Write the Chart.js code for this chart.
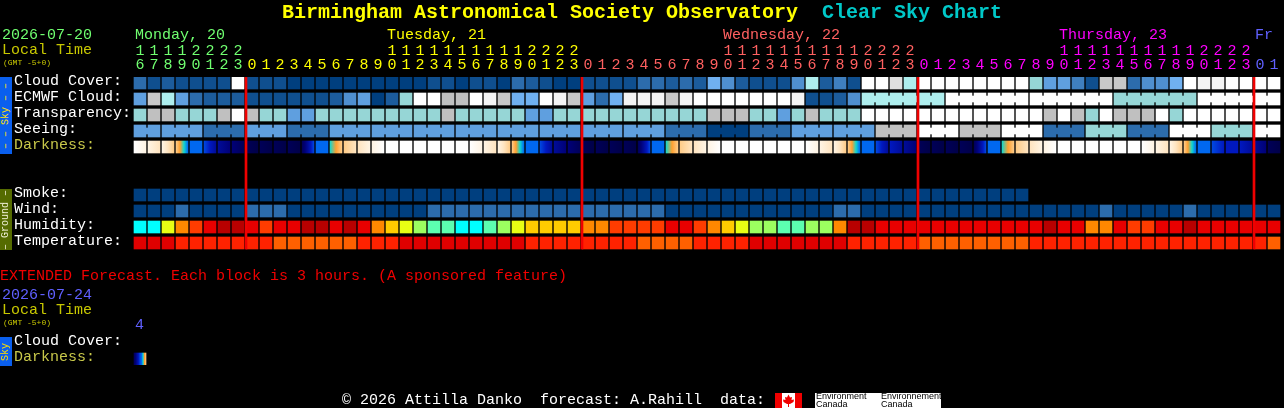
<!DOCTYPE html>
<html><head><meta charset="utf-8">
<style>
html,body{margin:0;padding:0;background:#000;width:1284px;height:408px;overflow:hidden}
#wrap{position:relative;width:1284px;height:408px;background:#000;font-family:"Liberation Mono",monospace;font-size:15px;line-height:16px}
canvas{position:absolute;left:0;top:0}
.t{position:absolute;white-space:pre}
.strip{position:absolute;left:0;width:12px;overflow:hidden}
.strip span{position:absolute;left:6px;top:50%;transform:translate(-50%,-50%) rotate(-90deg);font-size:10px;line-height:12px;white-space:pre}
</style></head><body>
<div id="wrap">
<canvas id="c" width="1284" height="408"></canvas>
<div class="t" style="left:282px;top:2px;font-size:20px;line-height:22px;font-weight:bold;color:#ffff00">Birmingham Astronomical Society Observatory</div>
<div class="t" style="left:822px;top:2px;font-size:20px;line-height:22px;font-weight:bold;color:#00c8c8">Clear Sky Chart</div>
<div class="t" style="left:2px;top:28px;color:#70ff70">2026-07-20</div>
<div class="t" style="left:2px;top:43px;color:#c8c800">Local Time</div>
<div class="t" style="left:3px;top:58px;font-size:8px;line-height:9px;color:#c8c800">(GMT -5+0)</div>
<div class="t" style="left:135px;top:28px;color:#70ff70">Monday, 20</div>
<div class="t" style="left:387px;top:28px;color:#ffff00">Tuesday, 21</div>
<div class="t" style="left:723px;top:28px;color:#ff6060">Wednesday, 22</div>
<div class="t" style="left:1059px;top:28px;color:#ff00ff">Thursday, 23</div>
<div class="t" style="left:1255px;top:28px;color:#6060ff">Fr</div>
<div class="strip" style="top:77px;height:77px;background:#0a5fee"><span style="color:#ffe000">– – Sky – –</span></div>
<div class="strip" style="top:189px;height:61px;background:#556b00"><span style="color:#f0f0d8">– Ground –</span></div>
<div class="t" style="left:0;top:269px;color:#f00000">EXTENDED Forecast. Each block is 3 hours. (A sponsored feature)</div>
<div class="t" style="left:2px;top:288px;color:#6060ff">2026-07-24</div>
<div class="t" style="left:2px;top:303px;color:#c8c800">Local Time</div>
<div class="t" style="left:3px;top:318px;font-size:8px;line-height:9px;color:#c8c800">(GMT -5+0)</div>
<div class="t" style="left:135px;top:318px;color:#6060ff">4</div>
<div class="strip" style="top:337px;height:29px;background:#0a5fee"><span style="color:#ffe000">Sky</span></div>
<div class="t" style="left:342px;top:393px;color:#fff">© 2026 Attilla Danko  forecast: A.Rahill  data:</div>
<svg style="position:absolute;left:775px;top:393px" width="27" height="15" viewBox="0 0 27 15"><rect width="27" height="15" fill="#fff"/><rect width="7" height="15" fill="#f00000"/><rect x="20" width="7" height="15" fill="#f00000"/><polygon fill="#f00000" points="13.5,1.5 15,4.5 17,4 16.5,7 19,6.5 18.5,9 15,11 14,11 14,14 13,14 13,11 12,11 8.5,9 8,6.5 10.5,7 10,4 12,4.5"/></svg>
<div style="position:absolute;left:815px;top:393px;width:126px;height:15px;background:#fff;overflow:hidden"></div>
<div class="t" style="left:816px;top:392px;font:9px/8px 'Liberation Sans',sans-serif;color:#000">Environment
Canada</div>
<div class="t" style="left:881px;top:392px;width:60px;overflow:hidden;font:9px/8px 'Liberation Sans',sans-serif;color:#000">Environnement
Canada</div>
</div>
<script src="https://cdn.jsdelivr.net/npm/chart.js@4/dist/chart.umd.min.js"></script>
<script>
// ---- tick labels ----
const hours = [16,17,18,19,20,21,22,23,
 0,1,2,3,4,5,6,7,8,9,10,11,12,13,14,15,16,17,18,19,20,21,22,23,
 0,1,2,3,4,5,6,7,8,9,10,11,12,13,14,15,16,17,18,19,20,21,22,23,
 0,1,2,3,4,5,6,7,8,9,10,11,12,13,14,15,16,17,18,19,20,21,22,23,
 0,1];
const midnightColumns = [8,32,56,80];
const dayColors = ['#70ff70','#ffff00','#ff6060','#ff00ff','#6060ff'];
const rowLabels = ['Cloud Cover:','ECMWF Cloud:','Transparency:','Seeing:','Darkness:','Smoke:','Wind:','Humidity:','Temperature:','Cloud Cover:','Darkness:'];
// ---- sky classes (index into skyColors) ----
const cloudCover = [3,1,2,1,1,1,1,14,1,1,1,0,0,0,0,0,0,0,0,0,0,1,1,0,1,1,0,3,2,1,0,0,
 1,1,1,1,3,3,2,3,2,7,5,2,1,1,1,5,9,2,4,1,14,14,12,9,
 14,14,14,14,14,14,14,14,8,6,6,4,1,11,11,3,5,5,7,14,13,13,14,14,14,14];
const ecmwfCloud = [6,11,9,6,3,2,2,2,1,1,1,1,1,1,2,5,6,0,2,8,14,14,10,10,14,13,11,7,7,14,13,11,
 6,3,7,13,13,13,11,13,14,14,14,14,14,14,14,13,1,1,2,5,
 9,9,9,9,9,9,14,14,14,14,14,14,14,14,14,14,14,14,8,8,8,8,8,8,14,14,14,14,14,14];
const transparency = [8,10,10,8,8,8,10,14,10,8,8,6,6,8,8,8,8,8,8,8,8,8,10,8,8,8,8,8,6,6,8,8,
 8,8,8,8,8,8,8,8,8,10,10,10,8,8,6,8,10,8,8,8,
 14,14,14,14,14,14,14,14,14,14,14,14,14,10,14,10,8,14,10,10,10,14,8,14,14,14,14,14,14,14];
const seeing = [6,6,6,6,6,3,3,3,6,6,6,3,3,3,6,6,6,6,6,6,6,6,6,6,6,6,6,6,6,6,6,6,
 6,6,6,6,6,6,3,3,3,0,0,0,3,3,3,6,6,6,6,6,6,
 10,10,10,14,14,14,10,10,10,14,14,14,3,3,3,8,8,8,3,3,3,14,14,14,8,8,8,14,14];
const seeingBlockStarts = [0,2,5,8,11,14,17,20,23,26,29,32,35,38,41,44,47,50,53,56,59,62,65,68,71,74,77,80];
const ecmwfBlockStarts = [52,58,64,70,76];
const smoke = [0,0,0,0,0,0,0,0,0,0,0,0,0,0,0,0,0,0,0,0,0,0,0,0,0,0,0,0,0,0,0,0,
 0,0,0,0,0,0,0,0,0,0,0,0,0,0,0,0,0,0,0,0,0,0,0,0,0,0,0,0,0,0,0,0];
const wind = [0,0,0,3,0,0,0,0,3,3,3,0,0,0,0,0,0,0,0,0,0,3,3,3,3,3,3,3,3,3,3,3,
 3,3,3,3,3,3,0,0,0,0,0,0,0,0,0,0,0,0,3,3,
 0,0,0,0,0,0,0,0,0,0,0,0,0,0,0,0,0,3,0,0,0,0,0,3,0,0,0,0,0,0];
const humidity = [0,0,3,5,6,7,8,8,7,6,7,7,8,8,7,8,7,5,4,3,2,1,1,0,0,1,2,3,4,4,4,4,
 5,5,6,6,6,6,7,7,6,5,4,3,2,2,1,1,2,2,5,8,
 8,7,7,7,7,7,7,7,7,7,7,7,7,8,7,7,5,5,7,6,6,7,7,8,7,7,7,7,7,7];
const temperature = [0,0,0,1,1,1,1,1,1,1,2,2,2,2,2,2,1,1,1,0,0,0,0,0,0,0,0,0,1,1,1,1,
 1,1,1,1,2,2,2,2,1,1,1,1,0,0,0,0,0,0,0,1,
 1,1,1,1,2,2,2,2,2,2,2,2,1,1,1,1,1,1,1,1,1,1,1,1,1,1,1,1,1,2];
// darkness: level at the left and right edge of each block
const darkStart = [0,1,1,3,6,7,9,10,11,11,11,11,11,6,5,3,2,1,0,0,0,0,0,0,
 0,1,1,3,6,7,9,10,11,11,11,11,11,6,5,3,2,1,0,0,0,0,0,0,
 0,1,1,3,6,7,8,9,11,11,11,11,11,6,5,3,2,1,0,0,0,0,0,0,
 0,1,1,3,6,7,8,8,9,11];
const darkEnd = [1,2,3,6,6,9,10,11,12,12,12,12,7,6,3,2,1,0,0,0,0,0,0,0,
 1,2,3,6,6,9,10,11,12,12,12,12,7,6,3,2,1,0,0,0,0,0,0,0,
 1,2,3,6,6,9,9,10,12,12,12,12,7,6,3,2,1,0,0,0,0,0,0,0,
 1,2,3,6,6,8,8,9,10,12];
const extDarkStart = [11];
const extDarkEnd = [3];
// ---- palettes ----
const skyColors = ['#003f7f','#0f4f8f','#1c5c9c','#2c6cac','#3f7fbf','#4f8fcf','#5f9fdf','#70b0f0','#96d6d6','#aeeeee','#c0c0c0','#c8c8c8','#e0e0e0','#f4f4f4','#ffffff'];
const humidityColors = ['#00ffff','#5cffb0','#9cff60','#e8ff14','#ffcc00','#ff8800','#ff3c00','#e80000','#b80000'];
const temperatureColors = ['#e00000','#ff2200','#ff6000'];
const darkColors = ['#ffffff','#fff4e4','#ffe4c0','#ffcc88','#ffa030','#10d8d0','#0068f0','#0048e0','#0018c0','#000c98','#000078','#000058','#000048'];
// ---- layout ----
const rowSlots = [0,1,2,3,4,7,8,9,10,16.25,17.25];
const cellH = .75, labelShift = .26;

function row(values, slot, colors){
  return {data:values.map(()=>[slot,slot+cellH]), backgroundColor:values.map(v=>colors[v]), barThickness:12, grouped:false, xAxisID:'x', yAxisID:'y'};
}
function darkRow(starts, ends, slot){
  return {data:starts.map(()=>[slot,slot+cellH]), barThickness:12, grouped:false, xAxisID:'x', yAxisID:'y',
    backgroundColor(ctx){
      const i=ctx.dataIndex, a=starts[i], b=ends[i];
      if(i===undefined || a===undefined) return darkColors[0];
      if(a===b) return darkColors[a];
      const c=ctx.chart.scales.x.getPixelForValue(i);
      if(!Number.isFinite(c)) return darkColors[a];
      const g=ctx.chart.ctx.createLinearGradient(c-6,0,c+6,0);
      const n=Math.abs(b-a), s=b>a?1:-1;
      for(let k=0;k<=n;k++) g.addColorStop(k/n,darkColors[a+s*k]);
      return g;
    }};
}
function joins(starts, values, slot, last){
  const pts=[], cols=[];
  for(let b=0;b<starts.length;b++){
    const end=(b+1<starts.length?starts[b+1]:last+1)-1;
    for(let c=starts[b];c<end;c++){pts.push({x:c+.5,y:[slot+3/16,slot+9/16]});cols.push(skyColors[values[c]]);}
  }
  return {data:pts, backgroundColor:cols, barThickness:2, grouped:false, xAxisID:'xj', yAxisID:'y'};
}
const datasets=[
 {data:midnightColumns.map(c=>({x:c-.5+1/14,y:[0,10.75]})), backgroundColor:'#f00000', barThickness:2, grouped:false, xAxisID:'xj', yAxisID:'y', order:-1},
 row(cloudCover,rowSlots[0],skyColors),
 row(ecmwfCloud,rowSlots[1],skyColors),
 row(transparency,rowSlots[2],skyColors),
 row(seeing,rowSlots[3],skyColors),
 darkRow(darkStart,darkEnd,rowSlots[4]),
 row(smoke,rowSlots[5],skyColors),
 row(wind,rowSlots[6],skyColors),
 row(humidity,rowSlots[7],humidityColors),
 row(temperature,rowSlots[8],temperatureColors),
 darkRow(extDarkStart,extDarkEnd,rowSlots[10]),
 joins(ecmwfBlockStarts,ecmwfCloud,rowSlots[1],81),
 joins(seeingBlockStarts,seeing,rowSlots[3],81)
];
const tickFont={family:'"Liberation Mono",monospace',size:15,lineHeight:'14px'};
new Chart(document.getElementById('c'),{
 type:'bar',
 data:{labels:hours.map(h=>h>=10?[String(h)[0],String(h)[1]]:['',String(h)]),datasets},
 options:{
  responsive:false,animation:false,devicePixelRatio:1,
  layout:{padding:{left:14,right:3,top:0,bottom:43}},
  plugins:{legend:{display:false},tooltip:{enabled:false},title:{display:false}},
  scales:{
   x:{type:'category',position:'top',offset:true,grid:{display:false,drawTicks:false},border:{display:false},
      afterFit(s){s.height=77},
      ticks:{autoSkip:false,maxRotation:0,minRotation:0,padding:5,font:tickFont,
        color(ctx){const i=ctx.index;return dayColors[i<8?0:i<32?1:i<56?2:i<80?3:4];}}},
   xj:{type:'linear',position:'bottom',offset:false,min:-.5,max:81.5,grid:{display:false,drawTicks:false},border:{display:false},
      ticks:{display:false},afterFit(s){s.height=0}},
   y:{type:'linear',reverse:true,min:0,max:18,position:'left',grid:{display:false,drawTicks:false},border:{display:false},
      afterFit(s){s.width=119},
      afterBuildTicks(s){s.ticks=rowSlots.map(v=>({value:v+labelShift}));},
      ticks:{autoSkip:false,crossAlign:'far',padding:0,font:tickFont,
        callback(v,i){return rowLabels[i]},
        color(ctx){return rowLabels[ctx.index]==='Darkness:'?'#c8c84a':'#ffffff'}}}
  }
 }
});
</script>
</body></html>
